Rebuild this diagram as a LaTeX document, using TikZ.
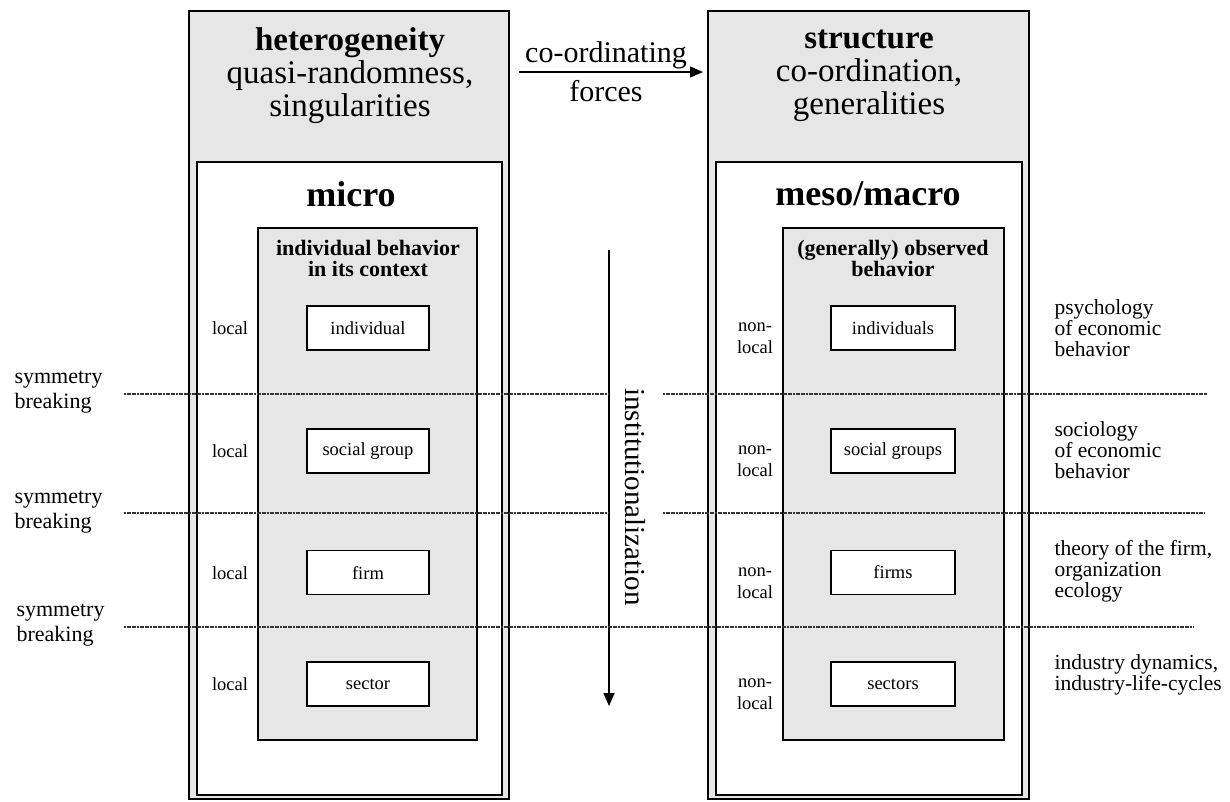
\documentclass[tikz,border=0pt]{standalone}
\usepackage{fontspec}
\setmainfont{Liberation Serif}
\usetikzlibrary{arrows.meta}
\definecolor{shade}{HTML}{E6E6E6}
\begin{document}
\begin{tikzpicture}[x=1pt,y=-1pt,
  frame/.style={draw, line width=1.4pt, rectangle, inner sep=0pt},
  outerbox/.style={frame, fill=shade},
  innerbox/.style={frame, fill=white},
  graybox/.style={frame, fill=shade},
  unit/.style={frame, fill=white, minimum height=44pt, inner sep=0pt, font=\fontsize{18.5}{20}\selectfont},
  bighead/.style={align=center, font=\fontsize{33}{33}\selectfont},
  midhead/.style={font=\fontsize{36}{38}\selectfont\bfseries},
  smallhead/.style={align=center, font=\fontsize{22}{21}\selectfont\bfseries},
  loc/.style={align=center, font=\fontsize{18.5}{22}\selectfont},
  sym/.style={align=left, anchor=west, font=\fontsize{22}{25}\selectfont},
  field/.style={align=left, anchor=west, font=\fontsize{21.5}{21}\selectfont},
  sep/.style={line width=1.3pt, black!80, dash pattern=on 2pt off 0.6pt},
  arr/.style={line width=1.3pt, -{Triangle[length=13pt,width=11pt]}}
]
\useasboundingbox (0,0) rectangle (1230,801);

% left column
\node[outerbox, minimum width=320pt, minimum height=788pt] (outerL) at (349,405) {};
\node[innerbox, minimum width=305pt, minimum height=633pt] (innerL) at (349.5,478.5) {};
\node[graybox, minimum width=219pt, minimum height=512pt] (grayL) at (367.5,484) {};
% right column
\node[outerbox, minimum width=321pt, minimum height=788pt] (outerR) at (868.5,405) {};
\node[innerbox, minimum width=306pt, minimum height=633pt] (innerR) at (869,478.5) {};
\node[graybox, minimum width=221pt, minimum height=512pt] (grayR) at (893.5,484) {};

% headings
\node[bighead] (hetero) at (350,76) {\textbf{heterogeneity}\\quasi-randomness,\\singularities};
\node[bighead] (struct) at (869,76) {\textbf{structure}\\co-ordination,\\generalities};
\node[midhead] (micro) at (351,194) {micro};
\node[midhead] (meso) at (868,194) {meso/macro};
\node[smallhead] (indctx) at (368,258) {individual behavior\\in its context};
\node[smallhead] (obs) at (893,258) {(generally) observed\\behavior};

% unit boxes left
\node[unit, minimum width=122pt] (ind) at (368,328) {individual};
\node[unit, minimum width=122pt] (sg) at (368,451) {social group};
\node[unit, minimum width=122pt] (firm) at (368,572.5) {firm};
\node[unit, minimum width=122pt] (sec) at (368,684) {sector};
% unit boxes right
\node[unit, minimum width=124pt] (inds) at (893,328) {individuals};
\node[unit, minimum width=124pt] (sgs) at (893,451) {social groups};
\node[unit, minimum width=124pt] (firms) at (893,572.5) {firms};
\node[unit, minimum width=124pt] (secs) at (893,684) {sectors};

% local labels
\node[loc] (l1) at (230,328) {local};
\node[loc] (l2) at (230,451) {local};
\node[loc] (l3) at (230,573) {local};
\node[loc] (l4) at (230,684) {local};
\node[loc] (n1) at (755,338) {non-\\local};
\node[loc] (n2) at (755,461) {non-\\local};
\node[loc] (n3) at (755,583) {non-\\local};
\node[loc] (n4) at (755,694) {non-\\local};

% co-ordinating forces arrow
\coordinate (cfA) at (519,72);
\coordinate (cfB) at (703,72);
\draw[arr] (cfA) -- (cfB);
\node[font=\fontsize{30}{30}\selectfont] (cfT) at (606,55) {co-ordinating};
\node[font=\fontsize{30}{30}\selectfont] (cfF) at (606,91) {forces};

% institutionalization arrow
\coordinate (inA) at (609,250);
\coordinate (inB) at (609,706);
\draw[arr] (inA) -- (inB);
\node[rotate=-90, font=\fontsize{29}{29}\selectfont] (inst) at (635,497) {institutionalization};

% separating lines
\draw[sep] (124,394) -- (609,394);
\draw[sep] (663,394) -- (1207,394);
\draw[sep] (124,513) -- (609,513);
\draw[sep] (663,513) -- (1205,513);
\draw[sep] (124,627) -- (1194,627);

% symmetry breaking labels
\node[sym] (sb1) at (11,392) {symmetry\\breaking};
\node[sym] (sb2) at (11,512) {symmetry\\breaking};
\node[sym] (sb3) at (13,625) {symmetry\\breaking};

% fields
\node[field] (f1) at (1051,328) {psychology\\of economic\\behavior};
\node[field] (f2) at (1051,450) {sociology\\of economic\\behavior};
\node[field] (f3) at (1051,571) {theory of the firm,\\organization\\ecology};
\node[field] (f4) at (1051,675) {industry dynamics,\\industry-life-cycles};
\end{tikzpicture}
\end{document}
